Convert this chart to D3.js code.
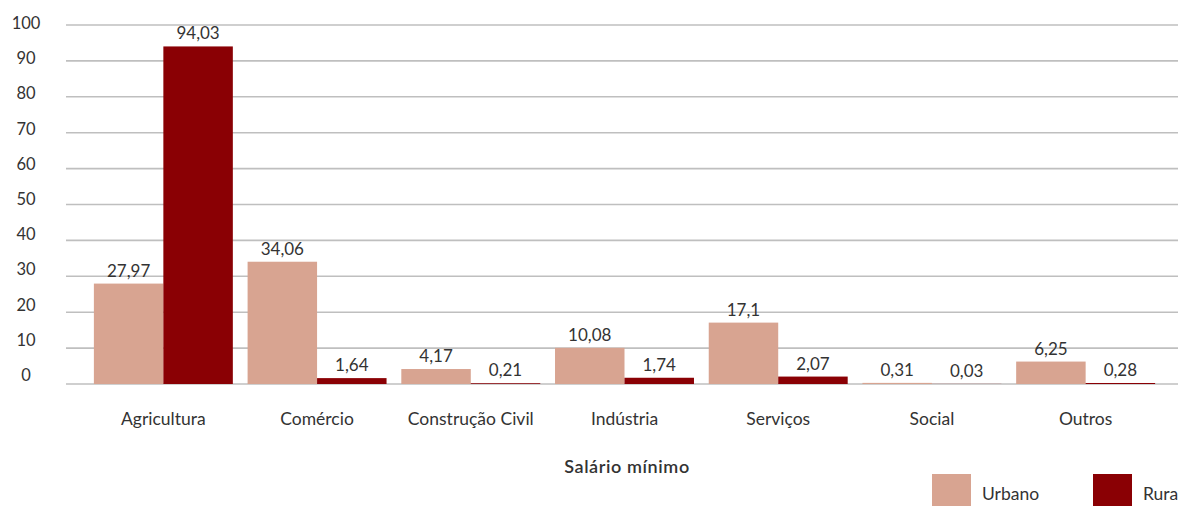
<!DOCTYPE html>
<html>
<head>
<meta charset="utf-8">
<script src="https://cdn.jsdelivr.net/npm/d3@7"></script>
<style>
  html, body { margin: 0; padding: 0; background: #fff; overflow: hidden; }
  svg { display: block; font-family: Lato, "Open Sans", sans-serif; }
</style>
</head>
<body>
<svg id="chart" width="1178" height="506"></svg>
<script>
// Categories and series
const categories = ["Agricultura", "Comércio", "Construção Civil", "Indústria", "Serviços", "Social", "Outros"];
const urbano = [27.97, 34.06, 4.17, 10.08, 17.1, 0.31, 6.25];
const rural  = [94.03, 1.64, 0.21, 1.74, 2.07, 0.03, 0.28];
const seriesNames = ["Urbano", "Rural"];
const legendLabels = ["Urbano", "Rura"];
const yTicks = [0, 10, 20, 30, 40, 50, 60, 70, 80, 90, 100];
const axisTitle = "Salário mínimo";

const colors = { Urbano: "#d8a491", Rural: "#8a0004" };
const textColor = "#333333";

const svg = d3.select("#chart");

const plotLeft = 66, plotRight = 1178;
const y = d3.scaleLinear().domain([0, 100]).range([384, 25]);
// tick labels sit slightly above their gridlines
const yLabel = d3.scaleLinear().domain([0, 100]).range([375, 23]);

const x0 = d3.scaleBand().domain(categories).range([86.5, 1162.5])
  .paddingInner(0.096).paddingOuter(0.048);
const x1 = d3.scaleBand().domain(seriesNames).range([0, x0.bandwidth()]);

// gridlines
svg.append("g").selectAll("line").data(yTicks).join("line")
  .attr("x1", plotLeft).attr("x2", plotRight)
  .attr("y1", d => y(d)).attr("y2", d => y(d))
  .attr("stroke", "#bfbfbf").attr("stroke-width", 1.6);

// y tick labels
svg.append("g").selectAll("text").data(yTicks).join("text")
  .attr("x", 26).attr("y", d => yLabel(d))
  .attr("text-anchor", "middle").attr("dominant-baseline", "central")
  .attr("font-size", 16.5).attr("fill", textColor)
  .text(d => d);

const rows = categories.map((c, i) => ({
  cat: c,
  vals: [{ s: "Urbano", v: urbano[i] }, { s: "Rural", v: rural[i] }]
}));

const groups = svg.append("g").selectAll("g").data(rows).join("g")
  .attr("transform", d => `translate(${x0(d.cat)},0)`);

groups.selectAll("rect").data(d => d.vals).join("rect")
  .attr("x", d => x1(d.s))
  .attr("width", x1.bandwidth())
  .attr("y", d => y(d.v))
  .attr("height", d => y(0) - y(d.v))
  .attr("fill", d => colors[d.s]);

const fmt = v => String(v).replace(".", ",");
groups.selectAll("text").data(d => d.vals).join("text")
  .attr("x", d => x1(d.s) + x1.bandwidth() / 2)
  .attr("y", d => y(d.v) - 7)
  .attr("text-anchor", "middle")
  .attr("font-size", 17).attr("fill", textColor)
  .text(d => fmt(d.v));

// category labels
svg.append("g").selectAll("text").data(categories).join("text")
  .attr("x", d => x0(d) + x0.bandwidth() / 2)
  .attr("y", 418)
  .attr("text-anchor", "middle").attr("dominant-baseline", "central")
  .attr("font-size", 17.5).attr("fill", textColor)
  .text(d => d);

// axis title
svg.append("text")
  .attr("x", 627).attr("y", 466)
  .attr("text-anchor", "middle").attr("dominant-baseline", "central")
  .attr("font-size", 18).attr("font-weight", 600).attr("fill", textColor)
  .attr("letter-spacing", 0.6)
  .text(axisTitle);

// legend
const legend = svg.append("g").selectAll("g").data(seriesNames).join("g")
  .attr("transform", (d, i) => `translate(${932 + i * 161},474)`);
legend.append("rect").attr("width", 39).attr("height", 32)
  .attr("fill", d => colors[d]);
legend.append("text").attr("x", 50).attr("y", 19)
  .attr("dominant-baseline", "central")
  .attr("font-size", 17.5).attr("fill", textColor)
  .text((d, i) => legendLabels[i]);
</script>
</body>
</html>
